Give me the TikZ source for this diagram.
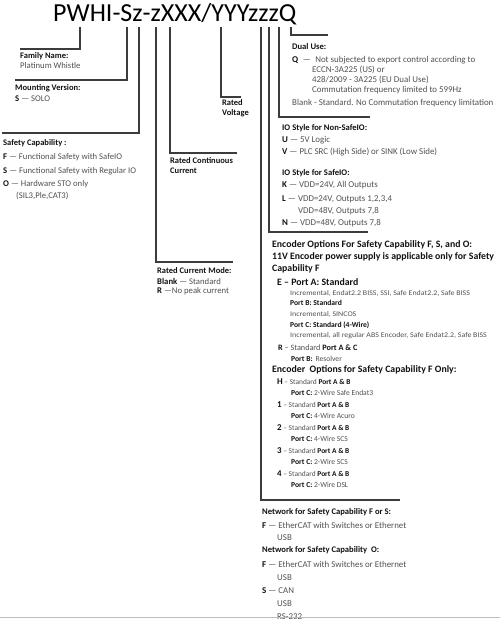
\documentclass[tikz,border=0pt]{standalone}
\usepackage{fontspec}
\setmainfont{Carlito}
\newfontfamily\smfont[FakeStretch=1.1]{Carlito}
\usepackage{tikz}
\definecolor{ink}{HTML}{111111}
\definecolor{txt}{HTML}{505050}
\definecolor{rule}{HTML}{3C3C3C}
\definecolor{edge}{HTML}{BDBDBD}
\newcommand{\kw}[1]{{\color{ink}\bfseries #1}}

\begin{document}
\begin{tikzpicture}[x=1pt,y=-1pt,
  lead/.style={draw=rule,line width=1.1pt},
  hd/.style={anchor=west,inner sep=0,text=ink,font=\fontsize{8.5}{9}\selectfont\bfseries},
  tx/.style={anchor=west,inner sep=0,text=txt,font=\fontsize{8.7}{9}\selectfont},
  rhd/.style={anchor=west,inner sep=0,text=ink,font=\fontsize{8.6}{10}\selectfont\bfseries},
  rtx/.style={anchor=west,inner sep=0,text=txt,font=\fontsize{8.9}{10}\selectfont},
  ehd/.style={anchor=west,inner sep=0,text=ink,font=\fontsize{9.8}{11}\selectfont\bfseries},
  opt/.style={anchor=west,inner sep=0,text=txt,font=\fontsize{7.4}{9}\selectfont},
  sm/.style={anchor=west,inner sep=0,text=txt,font=\fontsize{7.2}{8}\smfont},
  port/.style={anchor=west,inner sep=0,text=txt,font=\fontsize{7.6}{8}\selectfont}]
  \useasboundingbox (0,0) rectangle (500,619);
  \node[anchor=base west,inner sep=0,font=\fontsize{26}{29}\selectfont] (code) at (53,21) {PWHI-Sz-zXXX/YYYzzzQ};
  \foreach \n/\x/\y/\e in {pw/80/49/20,mv/127/80/15,sc/139/133/2,cm/156/262/233,rc/170/153/237,
      rv/221/97/241,nw/261/500/400,en/269/232/368,io/279/117/370,du/291/35/328} {
    \coordinate (t\n) at (\x,27);
    \coordinate (e\n) at (\e,\y);
    \draw[lead] (t\n) -| (t\n |- e\n) -- (e\n);
  }
  \node[hd] (fam) at (20,56) {Family Name:};
  \node[tx] (fam1) at (20,66) {Platinum Whistle};
  \node[hd] (mnt) at (15,88) {Mounting Version:};
  \node[tx] (mnt1) at (15,99) {\kw{S} — SOLO};
  \node[hd] (saf) at (3,143) {Safety Capability :};
  \node[tx] (saf1) at (3,157) {\kw{F} — Functional Safety with SafeIO};
  \node[tx] (saf2) at (3,171) {\kw{S} — Functional Safety with Regular IO};
  \node[tx] (saf3) at (3,184) {\kw{O} — Hardware STO only};
  \node[tx] (saf4) at (16,196) {(SIL3,Ple,CAT3)};
  \node[hd] (cur) at (170,161) {Rated Continuous};
  \node[hd] (cur1) at (170,171) {Current};
  \node[hd] (vol) at (222,103) {Rated};
  \node[hd] (vol1) at (222,113) {Voltage};
  \node[hd] (mode) at (157,271) {Rated Current Mode:};
  \node[tx] (mode1) at (157,281) {\kw{Blank} — Standard};
  \node[tx] (mode2) at (157,291) {\kw{R} —No peak current};
  \node[rhd] (dual) at (292,47) {Dual Use:};
  \node[rtx] (dual1) at (292,60) {\kw{Q}\enspace—\enspace Not subjected to export control according to};
  \node[rtx] (dual2) at (312,70) {ECCN-3A225 (US) or};
  \node[rtx] (dual3) at (312,80) {428/2009 - 3A225 (EU Dual Use)};
  \node[rtx] (dual4) at (312,90) {Commutation frequency limited to 599Hz};
  \node[rtx] (dual5) at (292,103) {Blank - Standard. No Commutation frequency limitation};
  \node[rhd] (nio) at (282,128) {IO Style for Non-SafeIO:};
  \node[rtx] (nio1) at (282,140) {\kw{U} — 5V Logic};
  \node[rtx] (nio2) at (282,152) {\kw{V} — PLC SRC (High Side) or SINK (Low Side)};
  \node[rhd] (sio) at (282,173) {IO Style for SafeIO:};
  \node[rtx] (sio1) at (282,185) {\kw{K} — VDD=24V, All Outputs};
  \node[rtx] (sio2) at (282,199) {\kw{L} — VDD=24V, Outputs 1,2,3,4};
  \node[rtx] (sio3) at (298,211) {VDD=48V, Outputs 7,8};
  \node[rtx] (sio4) at (282,223) {\kw{N} — VDD=48V, Outputs 7,8};
  \node[ehd] (enc) at (272,245) {Encoder Options For Safety Capability F, S, and O:};
  \node[ehd] (enc1) at (272,257) {11V Encoder power supply is applicable only for Safety};
  \node[ehd] (enc2) at (272,269) {Capability F};
  \node[ehd] (encE) at (277,282) {E – Port A: Standard};
  \node[sm] (encE1) at (290,293) {Incremental, Endat2.2 BISS, SSI, Safe Endat2.2, Safe BISS};
  \node[port] (encE2) at (290,303) {\kw{Port B: Standard}};
  \node[sm] (encE3) at (290,314) {Incremental, SINCOS};
  \node[port] (encE4) at (290,325) {\kw{Port C: Standard (4-Wire)}};
  \node[sm] (encE5) at (290,336) {Incremental, all regular ABS Encoder, Safe Endat2.2, Safe BISS};
  \node[rtx,font=\fontsize{8.2}{9}\selectfont] (encR) at (278,348) {\kw{R} – Standard \kw{Port A \& C}};
  \node[port] (encR1) at (291,359) {\kw{Port B:}\, Resolver};
  \node[ehd] (fonly) at (272,370) {Encoder\ \ Options for Safety Capability F Only:};
  \foreach \k/\p/\y in {H/2-Wire Safe Endat3/382,1/4-Wire Acuro/405,2/4-Wire SCS/428,
      3/2-Wire SCS/451,4/2-Wire DSL/474} {
    \node[opt] (opt\k) at (277,\y) {{\fontsize{8.9}{9}\selectfont\kw{\k}} – Standard \kw{Port A \& B}};
    \node[port] (port\k) at (291,\y+11) {\kw{Port C:} \p};
  }
  \node[rhd] (nfs) at (262,512) {Network for Safety Capability F or S:};
  \node[rtx] (nfs1) at (262,525) {\kw{F} — EtherCAT with Switches or Ethernet};
  \node[rtx] (nfs2) at (277,538) {USB};
  \node[rhd] (nfo) at (262,550) {Network for Safety Capability\ \ O:};
  \node[rtx] (nfo1) at (262,564) {\kw{F} — EtherCAT with Switches or Ethernet};
  \node[rtx] (nfo2) at (277,578) {USB};
  \node[rtx] (nfo3) at (262,591) {\kw{S} — CAN};
  \node[rtx] (nfo4) at (277,604) {USB};
  \node[rtx] (nfo5) at (277,617) {RS-232};
  \draw[edge,line width=1pt] (0,617) -- (500,617);
\end{tikzpicture}
\end{document}
